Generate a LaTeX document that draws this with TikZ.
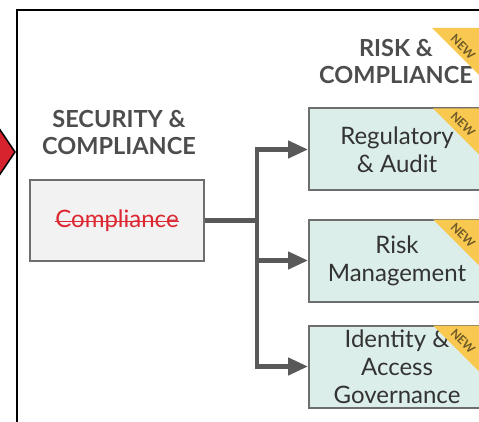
\documentclass[tikz,border=0pt]{standalone}
\usepackage{fontspec}
\setmainfont{Lato}
\usetikzlibrary{arrows.meta}
\newlength{\du}
\setlength{\du}{1pt}
\newsavebox{\strikebox}
\newcommand{\struck}[1]{\sbox{\strikebox}{#1}\rlap{\raisebox{0.42ex}{\rule{\wd\strikebox}{1.4pt}}}\usebox{\strikebox}}
\definecolor{headgray}{RGB}{77,77,77}
\definecolor{textgray}{RGB}{51,51,51}
\definecolor{boxgray}{RGB}{110,110,110}
\definecolor{linkgray}{RGB}{89,89,89}
\definecolor{oldfill}{RGB}{242,242,242}
\definecolor{newfill}{RGB}{220,238,234}
\definecolor{oldred}{RGB}{220,40,50}
\definecolor{markred}{RGB}{215,35,45}
\definecolor{tagyellow}{RGB}{248,200,80}
\definecolor{tagbrown}{RGB}{110,90,40}

\begin{document}
\begin{tikzpicture}[x=1\du,y=-1\du,
  heading/.style={font=\bfseries\fontsize{23.5}{27}\selectfont,text=headgray,align=center,inner sep=0pt},
  oldbox/.style={draw=boxgray,line width=2.5\du,fill=oldfill,minimum width=174\du,minimum height=81\du,inner sep=0pt,font=\fontsize{24}{28}\selectfont},
  newbox/.style={draw=boxgray,line width=2\du,fill=newfill,minimum width=176\du,minimum height=82\du,inner sep=0pt,align=center,text=textgray,font=\fontsize{24}{28}\selectfont},
  link/.style={draw=linkgray,line width=4.5\du},
  branch/.style={link,-{Triangle[length=20pt,width=17pt]}},
  newtag/.style={font=\bfseries\fontsize{12}{12}\selectfont,text=tagbrown,rotate=-45,inner sep=0pt}]
\useasboundingbox (0,0) rectangle (479,422);
\clip (0,0) rectangle (479,422);

% frame and marker
\draw[line width=2.5\du] (17,440) -- (17,10) -- (500,10);
\filldraw[fill=markred,draw=black,line width=1.5\du] (-10,115) -- (15,152) -- (-10,189) -- cycle;

% headings
\node[heading] (sechead) at (119,133) {SECURITY \&\\COMPLIANCE};
\node[heading] (riskhead) at (396,62) {RISK \&\\COMPLIANCE};

% boxes
\node[oldbox,text=oldred] (comp) at (117,220.5) {\struck{Compliance}};
\node[newbox] (reg) at (397,149.5) {Regulatory\\\& Audit};
\node[newbox] (risk) at (397,260.5) {Risk\\Management};
\node[newbox] (iag) at (397,366.5) {Identity \&\\Access\\Governance};

% connectors
\coordinate (split) at (257,220.5);
\draw[link] (comp.east) -- (split);
\foreach \t in {reg,risk,iag}
  \draw[branch] (split) |- (\t.west);

% NEW tags
\coordinate (tagtop) at (485,28);
\fill[tagyellow] (432,28) -- ++(80,0) -- ++(0,80) -- cycle;
\node[newtag] (tag0) at ([xshift=-22\du,yshift=-19\du]tagtop) {NEW};
\foreach \t in {reg,risk,iag} {
  \fill[tagyellow] (\t.north east) ++(-53,1) -- ++(80,0) -- ++(0,80) -- cycle;
  \node[newtag] (tag\t) at ([xshift=-23\du,yshift=-17\du]\t.north east) {NEW};
}
\end{tikzpicture}
\end{document}
